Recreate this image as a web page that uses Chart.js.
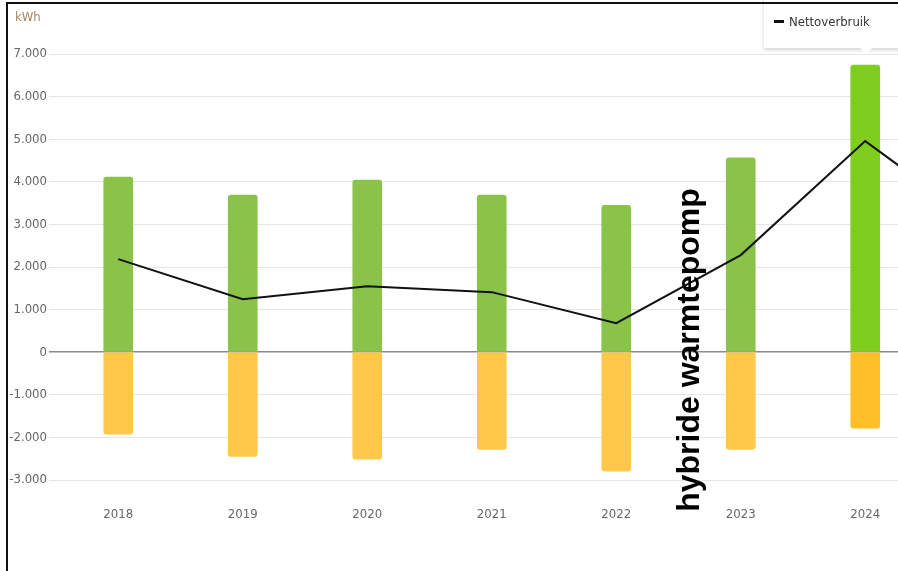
<!DOCTYPE html>
<html>
<head>
<meta charset="utf-8">
<script src="https://cdn.jsdelivr.net/npm/chart.js@4"></script>
<style>
  html, body { margin: 0; padding: 0; background: #fff; width: 898px; height: 571px; overflow: hidden; position: relative; }
  #wrap { position: absolute; left: 0; top: 0; width: 1052px; height: 571px; }
  #frame { position: absolute; left: 6px; top: 2px; width: 900px; height: 580px; border-left: 2px solid #111; border-top: 2px solid #111; pointer-events: none; }
  #unit { position: absolute; left: 15px; top: 9px; font: 13px "Liberation Sans Narrow", "DejaVu Sans Condensed", sans-serif; color: #a8865e; }
  #tip { position: absolute; left: 764px; top: -10px; width: 160px; height: 58px; background: #fff; box-shadow: 0 2px 4px rgba(0,0,0,0.18); }
  #tip .arrow { position: absolute; left: 96px; top: 58px; width: 0; height: 0; border-left: 6px solid transparent; border-right: 6px solid transparent; border-top: 6px solid #fff; }
  #tip .row { position: absolute; left: 10px; top: 24px; font: 13px "Liberation Sans Narrow", "DejaVu Sans Condensed", sans-serif; color: #333; white-space: nowrap; }
  #tip .dash { display: inline-block; width: 10px; height: 3px; background: #111; vertical-align: middle; margin-right: 5px; position: relative; top: -1px; }
  #note { position: absolute; left: 688px; top: 350px; transform: translate(-50%, -50%) rotate(-90deg); font: bold 32px "Liberation Sans", Arial, sans-serif; color: #000; white-space: nowrap; }
</style>
</head>
<body>
<div id="wrap"><canvas id="c"></canvas></div>
<div id="unit">kWh</div>
<div id="tip"><div class="row"><span class="dash"></span>Nettoverbruik</div><div class="arrow"></div></div>
<div id="note">hybride warmtepomp</div>
<div id="frame"></div>
<script>
const categories = ['2018', '2019', '2020', '2021', '2022', '2023', '2024', '2025'];
const verbruik = [4110, 3690, 4040, 3690, 3450, 4560, 6740, null];
const teruglevering = [-1925, -2445, -2510, -2280, -2795, -2280, -1785, null];
const nettoverbruik = [2185, 1245, 1550, 1410, 680, 2280, 4955, 2820];
const yTicks = [-3000, -2000, -1000, 0, 1000, 2000, 3000, 4000, 5000, 6000, 7000];

const greenCol = categories.map((c, i) => i === 6 ? '#7fce1f' : '#8bc34a');
const orangeCol = categories.map((c, i) => i === 6 ? '#ffbf28' : '#ffc84b');

function fmt(v) {
  const s = Math.abs(v).toString().replace(/\B(?=(\d{3})+(?!\d))/g, '.');
  return (v < 0 ? '-' : '') + s;
}

const tickFont = { family: '"Liberation Sans Narrow", "DejaVu Sans Condensed", sans-serif', size: 13 };

new Chart(document.getElementById('c'), {
  type: 'bar',
  data: {
    labels: categories,
    datasets: [
      { type: 'line', label: 'Nettoverbruik', data: nettoverbruik, borderColor: '#111', borderWidth: 2, pointRadius: 0, tension: 0, stack: 'net', order: 0 },
      { label: 'Verbruik', data: verbruik, backgroundColor: greenCol, barThickness: 29, borderRadius: 3, stack: 'bars', order: 1 },
      { label: 'Teruglevering', data: teruglevering, backgroundColor: orangeCol, barThickness: 29, borderRadius: 3, stack: 'bars', order: 1 }
    ]
  },
  options: {
    responsive: true,
    maintainAspectRatio: false,
    animation: false,
    layout: { padding: { top: 54, bottom: 41, left: 0, right: 0 } },
    plugins: { legend: { display: false }, tooltip: { enabled: false } },
    scales: {
      x: {
        stacked: true,
        grid: { display: false, drawTicks: false },
        border: { display: false },
        ticks: { color: '#666', font: tickFont, padding: 27, maxRotation: 0 },
        afterFit: s => { s.height = 50; }
      },
      y: {
        stacked: true,
        min: -3000,
        max: 7000,
        afterBuildTicks: s => { s.ticks = yTicks.map(v => ({ value: v })); },
        afterFit: s => { s.width = 56; },
        grid: {
          color: ctx => ctx.tick && ctx.tick.value === 0 ? '#8a8a8a' : '#e6e6e6',
          lineWidth: ctx => ctx.tick && ctx.tick.value === 0 ? 1.5 : 1,
          tickLength: 7,
          drawTicks: true
        },
        border: { display: false },
        ticks: { color: '#666', font: tickFont, padding: 2, callback: v => fmt(v) }
      }
    }
  }
});
</script>
</body>
</html>
